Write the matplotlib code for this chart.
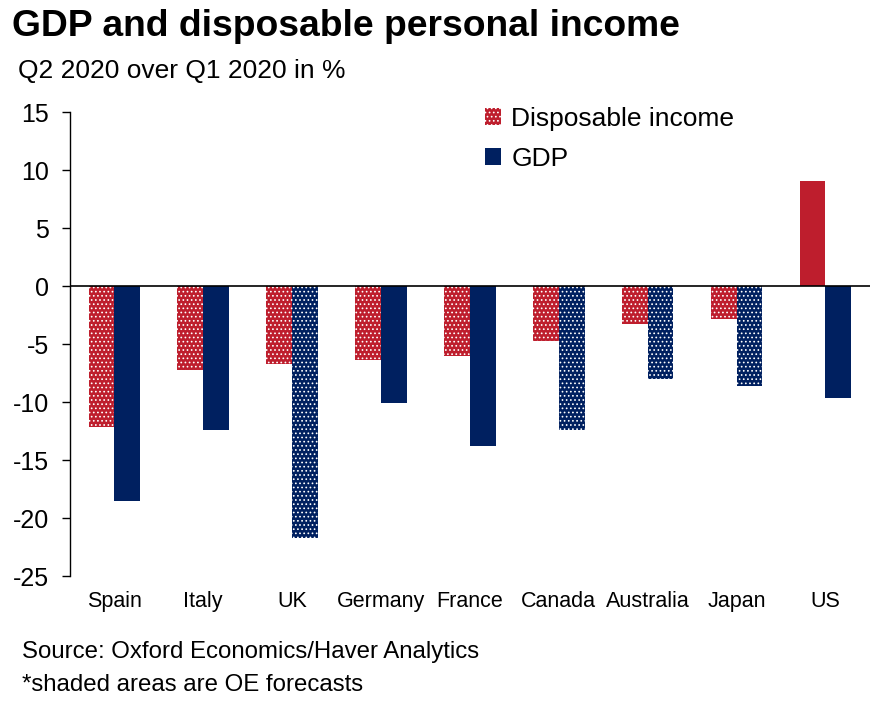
import numpy as np
import matplotlib.pyplot as plt
from matplotlib.patches import Patch

plt.rcParams['font.family'] = ['Liberation Sans', 'DejaVu Sans']
plt.rcParams['axes.unicode_minus'] = False
plt.rcParams['hatch.linewidth'] = 0.7

# datos
countries = ['Spain', 'Italy', 'UK', 'Germany', 'France', 'Canada', 'Australia', 'Japan', 'US']
income = [-12.1, -7.2, -6.7, -6.4, -6.0, -4.7, -3.3, -2.8, 9.1]
gdp = [-18.5, -12.4, -21.7, -10.1, -13.8, -12.4, -8.0, -8.6, -9.6]
# True = forecast (shaded)
income_fc = [True, True, True, True, True, True, True, True, False]
gdp_fc = [False, False, True, False, False, True, True, True, False]

red = '#BE1E2D'
navy = '#002060'
dots = '....'

fig = plt.figure(figsize=(8.84, 7.06), dpi=100)
ax = fig.add_axes([0.079, 0.184, 0.905, 0.657])

x = np.arange(len(countries))
w = 0.29
for i in range(len(countries)):
    ax.bar(x[i] - w / 2, income[i], w, color=red, edgecolor='white', linewidth=0,
           hatch=dots if income_fc[i] else None)
    ax.bar(x[i] + w / 2, gdp[i], w, color=navy, edgecolor='white', linewidth=0,
           hatch=dots if gdp_fc[i] else None)

ax.axhline(0, color='black', linewidth=1.2)
ax.set_xlim(-0.5, len(countries) - 0.5)
ax.set_ylim(-25, 15)
ax.set_yticks(np.arange(-25, 16, 5))
ax.set_xticks(x)
ax.set_xticklabels(countries, fontsize=15.5)
ax.tick_params(axis='x', length=0, pad=11)
ax.tick_params(axis='y', labelsize=18, length=6, width=1, direction='out', pad=9)
for s in ['top', 'right', 'bottom']:
    ax.spines[s].set_visible(False)
ax.spines['left'].set_linewidth(1)

handles = [Patch(facecolor=red, edgecolor='white', linewidth=0, hatch=dots, label='Disposable income'),
           Patch(facecolor=navy, edgecolor='white', linewidth=0, label='GDP')]
ax.legend(handles=handles, loc='upper left', bbox_to_anchor=(0.519, 1.011), frameon=False,
          borderpad=0, borderaxespad=0, fontsize=19, handlelength=0.6, handleheight=0.6,
          handletextpad=0.4, labelspacing=0.6)

fig.text(0.014, 0.962, 'GDP and disposable personal income', fontsize=26.8, fontweight='bold', va='center')
fig.text(0.02, 0.9, 'Q2 2020 over Q1 2020 in %', fontsize=19, va='center')
fig.text(0.025, 0.077, 'Source: Oxford Economics/Haver Analytics', fontsize=17.3, va='center')
fig.text(0.025, 0.03, '*shaded areas are OE forecasts', fontsize=17.3, va='center')

fig.savefig('out.png', dpi=100)
